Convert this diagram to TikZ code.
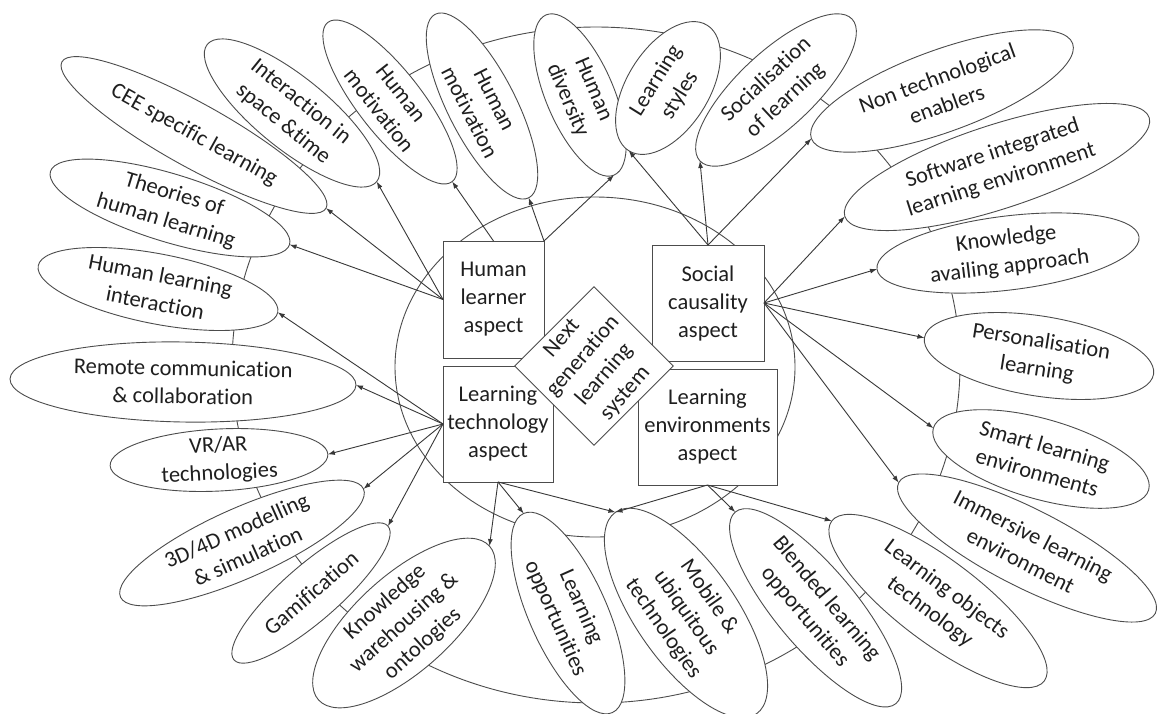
\documentclass[tikz,border=0pt]{standalone}
\usepackage{fontspec}
\setmainfont{Carlito}[Ligatures=NoCommon]
\usetikzlibrary{shapes.geometric,arrows.meta}

% leaf ellipse: name, x, y, width, height, angle, text
\newcommand{\leafnode}[7]{%
  \node[leaf, minimum width=#4pt, minimum height=#5pt, rotate=#6] (#1) at (#2,#3) {};
  \node[leaftext, rotate=#6] at (#1.center) {#7};}

\begin{document}
\begin{tikzpicture}[x=1pt, y=-1pt,
  ring/.style={draw=black!70, line width=0.9pt},
  leaf/.style={ellipse, draw=black!70, line width=0.9pt, fill=white, inner sep=0pt, outer sep=0pt},
  leaftext/.style={align=center, font=\fontsize{22.5}{28}\selectfont, text=black!88, inner sep=0pt},
  aspect/.style={rectangle, draw=black!70, line width=0.9pt, fill=white, inner sep=0pt, outer sep=0pt,
                 align=center, font=\fontsize{22.5}{28}\selectfont, text=black!88},
  link/.style={draw=black!78, line width=0.9pt, -{Latex[length=7pt,width=5pt]}}]

\fill[white] (0,0) rectangle (1157,713);
\useasboundingbox (0,0) rectangle (1157,713);

% the two rings behind everything
\draw[ring] (596,365) ellipse [x radius=364, y radius=338];
\draw[ring] (595,367) ellipse [x radius=200, y radius=170];

% outer ring of topics
\leafnode{cee}{194}{135}{302}{64}{-29}{CEE specific learning}
\leafnode{inter}{292}{113}{218}{72}{-39}{Interaction in\\space \&time}
\leafnode{hmA}{390}{102}{202}{64}{-52}{Human\\motivation}
\leafnode{hmB}{482}{106}{206}{68}{-63}{Human\\motivation}
\leafnode{hdiv}{580}{95}{174}{68}{-67}{Human\\diversity}
\leafnode{lsty}{668}{88}{148}{82}{58}{Learning\\styles}
\leafnode{soc}{776}{90}{208}{76}{43}{Socialisation\\of learning}
\leafnode{ntech}{942}{91}{278}{82}{20}{Non technological\\enablers}
\leafnode{sile}{997}{167}{320}{84}{18}{Software integrated\\learning environment}
\leafnode{kaa}{1008}{253}{264}{74}{7}{Knowledge\\availing approach}
\leafnode{pers}{1039}{356}{232}{80}{-9}{Personalisation\\learning}
\leafnode{smart}{1041}{459}{224}{80}{-16}{Smart learning\\environments}
\leafnode{imm}{1027}{548}{288}{78}{-27}{Immersive learning\\environment}
\leafnode{lobj}{938}{601}{266}{83}{-37}{Learning objects\\technology}
\leafnode{blend}{815.6}{607.8}{250}{80}{-50}{Blended learning\\opportunities}
\leafnode{mob}{686}{613}{246}{100}{-55}{Mobile \&\\ubiquitous\\technologies}
\leafnode{lopp}{568}{613}{218}{78}{-66}{Learning\\opportunities}
\leafnode{kwo}{404}{623}{230}{96}{42}{Knowledge\\warehousing \&\\ontologies}
\leafnode{gam}{311}{593}{204}{56}{41}{Gamification}
\leafnode{mod}{242}{543}{266}{70}{24}{3D/4D modelling\\\& simulation}
\leafnode{vrar}{219}{460}{218}{62}{3}{VR/AR\\technologies}
\leafnode{rcc}{183}{382}{346}{80}{-1}{Remote communication\\\& collaboration}
\leafnode{hli}{158}{289}{244}{70}{-11}{Human learning\\interaction}
\leafnode{theo}{170}{208}{250}{68}{-17}{Theories of\\human learning}

% the four aspects and the core
\node[aspect, minimum width=101pt, minimum height=117pt] (hl) at (493.5,299.5) {Human\\learner\\aspect};
\node[aspect, minimum width=112pt, minimum height=116pt] (sc) at (708,303) {Social\\causality\\aspect};
\node[aspect, minimum width=110pt, minimum height=116pt] (lt) at (498,424) {Learning\\technology\\aspect};
\node[aspect, minimum width=139pt, minimum height=116pt] (le) at (707.5,427) {Learning\\environments\\aspect};
\node[aspect, minimum width=112pt, minimum height=112pt, rotate=45] (ngls) at (594,366) {};
\node[leaftext, rotate=49] at (ngls.center) {Next\\generation\\learning\\system};

% human learner aspect
\draw[link] (hl.west) -- (theo.east);
\draw[link] (hl.west) -- (cee.east);
\draw[link] (hl.west) -- (inter.east);
\draw[link] (hl.north) -- (hmA.east);
\draw[link] (hl.north east) -- (hmB.east);
\draw[link] (hl.north east) -- (hdiv.east);

% social causality aspect
\draw[link] (sc.north) -- (lsty.west);
\draw[link] (sc.north) -- (soc.west);
\draw[link] (sc.north) -- (ntech.west);
\draw[link] (sc.east) -- (sile.west);
\draw[link] (sc.east) -- (kaa.west);
\draw[link] (sc.east) -- (pers.west);
\draw[link] (sc.east) -- (smart.west);
\draw[link] (sc.east) -- (imm.west);

% learning technology aspect
\draw[link] (lt.west) -- (hli.east);
\draw[link] (lt.west) -- (rcc.east);
\draw[link] (lt.west) -- (vrar.east);
\draw[link] (lt.west) -- (mod.east);
\draw[link] (lt.west) -- (gam.east);
\draw[link] (lt.south) -- (kwo.east);
\draw[link] (lt.south) -- (lopp.west);
\draw[link] (lt.south) -- (mob.west);

% learning environments aspect
\draw[link] (le.south) -- (mob.west);
\draw[link] (le.south) -- (blend.west);
\draw[link] (le.south) -- (lobj.west);

\end{tikzpicture}
\end{document}
